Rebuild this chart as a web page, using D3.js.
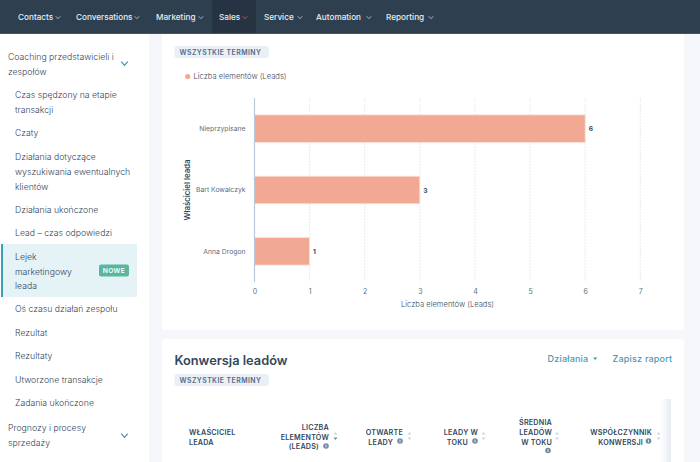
<!DOCTYPE html>
<html>
<head>
<meta charset="utf-8">
<script src="https://cdn.jsdelivr.net/npm/d3@7"></script>
<style>
html, body { margin: 0; padding: 0; background: #f5f8fa; overflow: hidden; }
svg { display: block; font-family: Inter, sans-serif; }
</style>
</head>
<body>
<div id="chart"></div>
<script>
// data
var owners = ["Nieprzypisane", "Bart Kowalczyk", "Anna Drogon"];
var leadCounts = [6, 3, 1];
var xTicks = [0, 1, 2, 3, 4, 5, 6, 7];

var seriesName = "Liczba elementów (Leads)";
var yAxisTitle = "Właściciel leada";
var dateTag = "WSZYSTKIE TERMINY";

var navLabels = ["Contacts", "Conversations", "Marketing", "Sales", "Service", "Automation", "Reporting"];
var navX = [18, 76, 156, 219, 264, 316, 386];
var navChevronX = [58, 137, 201, 245, 300, 369, 431];

var sideLines = [
    [8, 60, "Coaching przedstawicieli i"], [8, 75, "zespołów"],
    [15, 98, "Czas spędzony na etapie"], [15, 113, "transakcji"],
    [15, 136, "Czaty"],
    [15, 160, "Działania dotyczące"], [15, 175, "wyszukiwania ewentualnych"], [15, 190, "klientów"],
    [15, 213, "Działania ukończone"],
    [15, 236, "Lead – czas odpowiedzi"],
    [15, 260, "Lejek"], [15, 275, "marketingowy"], [15, 289, "leada"],
    [15, 312, "Oś czasu działań zespołu"],
    [15, 336, "Rezultat"],
    [15, 359, "Rezultaty"],
    [15, 383, "Utworzone transakcje"],
    [15, 406, "Zadania ukończone"],
    [8, 431, "Prognozy i procesy"], [8, 446, "sprzedaży"]
];

// table header lines: right edge x, baseline y, text
var headerLines = [
    [329, 430, "LICZBA"], [329, 439.5, "ELEMENTÓW"], [319, 449, "(LEADS)"],
    [403, 435, "OTWARTE"], [393, 444.5, "LEADY"],
    [478, 435, "LEADY W"], [468, 444.5, "TOKU"],
    [552, 425, "ŚREDNIA"], [552, 435, "LEADÓW"], [552, 444.5, "W TOKU"],
    [652, 435, "WSPÓŁCZYNNIK"], [643, 444.5, "KONWERSJI"]
];
var infoIcons = [[326, 446], [400, 441], [475, 441], [548, 450.5], [648.5, 441]];
var sortIcons = [[335.5, 436], [409.5, 436], [483.5, 436], [557, 436], [658.5, 436]];

var width = 700, height = 462;
var svg = d3.select("#chart").append("svg")
    .attr("width", width)
    .attr("height", height);

var defs = svg.append("defs");
var fade = defs.append("linearGradient").attr("id", "fade");
fade.append("stop").attr("offset", 0).attr("stop-color", "#e6ebf3").attr("stop-opacity", 0);
fade.append("stop").attr("offset", 1).attr("stop-color", "#e6ebf3");

/* Page panels. */
svg.append("rect").attr("width", width).attr("height", height).attr("fill", "#f5f7fb");
svg.append("rect").attr("width", 149).attr("height", height).attr("fill", "#ffffff");
svg.append("rect").attr("x", 162).attr("y", 30).attr("width", 522).attr("height", 300).attr("fill", "#ffffff");
svg.append("rect").attr("x", 162).attr("y", 339).attr("width", 522).attr("height", 130).attr("rx", 3).attr("fill", "#ffffff");

/* Top nav. */
svg.append("rect").attr("width", width).attr("height", 33).attr("fill", "#2e3f50");
svg.append("rect").attr("y", 33).attr("width", width).attr("height", 1).attr("fill", "#45525f");
svg.append("rect").attr("x", 212).attr("width", 44).attr("height", 33).attr("fill", "#253342");

function chevron(sel, cx, cy, r, color, sw) {
    sel.append("path")
        .attr("d", d3.line()([[cx - r, cy - r * 0.55], [cx, cy + r * 0.55], [cx + r, cy - r * 0.55]]))
        .attr("fill", "none")
        .attr("stroke", color)
        .attr("stroke-width", sw);
}

navLabels.forEach(function (label, i) {
    svg.append("text")
        .attr("x", navX[i])
        .attr("y", 20.3)
        .attr("font-size", 8.2)
        .attr("font-weight", 500)
        .attr("fill", "#e6edf3")
        .text(label);
    chevron(svg, navChevronX[i], 17.5, 2.3, label == "Sales" ? "#c9675f" : "#c3ced8", 0.8);
});

/* Sidebar. */
svg.append("rect").attr("x", 1).attr("y", 244).attr("width", 136).attr("height", 53).attr("fill", "#e5f2f6");
svg.append("rect").attr("x", 1).attr("y", 244).attr("width", 2).attr("height", 53).attr("fill", "#3f9fb8");

svg.selectAll(".side")
    .data(sideLines)
    .enter().append("text")
    .attr("class", "side")
    .attr("x", function (d) { return d[0]; })
    .attr("y", function (d) { return d[1]; })
    .attr("font-size", 8.7)
    .attr("font-weight", 300)
    .attr("fill", "#33475b")
    .text(function (d) { return d[2]; });

chevron(svg, 124.5, 63.5, 3.3, "#3d94b0", 1.2);
chevron(svg, 124.5, 435.5, 3.3, "#3d94b0", 1.2);

svg.append("rect").attr("x", 99).attr("y", 264.5).attr("width", 30).attr("height", 12).attr("rx", 2).attr("fill", "#58b79f");
svg.append("text")
    .attr("x", 114).attr("y", 273)
    .attr("text-anchor", "middle")
    .attr("font-size", 6.6)
    .attr("font-weight", 600)
    .attr("letter-spacing", 0.4)
    .attr("fill", "#ffffff")
    .text("NOWE");

/* Date tags. */
function dateTagAt(y) {
    svg.append("rect").attr("x", 174.5).attr("y", y).attr("width", 94.5).attr("height", 12).attr("rx", 2).attr("fill", "#eaf0f6");
    svg.append("text")
        .attr("x", 179.5).attr("y", y + 9)
        .attr("font-size", 6.9)
        .attr("font-weight", 600)
        .attr("letter-spacing", 0.45)
        .attr("fill", "#4f6a8c")
        .text(dateTag);
}
dateTagAt(46);
dateTagAt(374);

/* Legend. */
var barColor = "#f2a994";
svg.append("circle").attr("cx", 187.7).attr("cy", 76.5).attr("r", 2.6).attr("fill", barColor);
svg.append("text")
    .attr("x", 193.5).attr("y", 79)
    .attr("font-size", 7.6)
    .attr("font-weight", 300)
    .attr("fill", "#33475b")
    .text(seriesName);

/* Bar chart. */
var x = d3.scaleLinear().domain([0, 7]).range([254.5, 640.3]);
var y = d3.scaleBand().domain(owners).range([98, 282]).paddingInner(0.55).paddingOuter(0.275);

svg.selectAll(".grid")
    .data(xTicks.slice(1))
    .enter().append("line")
    .attr("class", "grid")
    .attr("x1", function (d) { return x(d); })
    .attr("x2", function (d) { return x(d); })
    .attr("y1", 98)
    .attr("y2", 282)
    .attr("stroke", "#e8ebef")
    .attr("stroke-dasharray", "2,1");

svg.selectAll(".bar")
    .data(owners)
    .enter().append("rect")
    .attr("class", "bar")
    .attr("x", x(0))
    .attr("y", function (d) { return y(d); })
    .attr("width", function (d, i) { return x(leadCounts[i]) - x(0); })
    .attr("height", y.bandwidth())
    .attr("fill", barColor)
    .attr("stroke", "#fbe3dc")
    .attr("stroke-width", 0.8);

svg.append("line")
    .attr("x1", x(0)).attr("x2", x(0)).attr("y1", 98).attr("y2", 282)
    .attr("stroke", "#b9c9dc")
    .attr("stroke-width", 1.2);

svg.selectAll(".val")
    .data(owners)
    .enter().append("text")
    .attr("class", "val")
    .attr("x", function (d, i) { return x(leadCounts[i]) + 3.5; })
    .attr("y", function (d) { return y(d) + y.bandwidth() / 2 + 2.6; })
    .attr("font-size", 6.6)
    .attr("font-weight", 700)
    .attr("fill", "#33475b")
    .text(function (d, i) { return leadCounts[i]; });

var xAxis = svg.append("g")
    .attr("transform", "translate(0,282)")
    .call(d3.axisBottom(x).tickValues(xTicks).tickFormat(d3.format("d")).tickSize(0).tickPadding(7));
xAxis.select(".domain").remove();
xAxis.selectAll("text").attr("font-family", "Inter, sans-serif").attr("font-size", 7).attr("fill", "#5c6f82");

var yAxis = svg.append("g")
    .attr("transform", "translate(245.5,0)")
    .call(d3.axisLeft(y).tickSize(0).tickPadding(0));
yAxis.select(".domain").remove();
yAxis.selectAll("text").attr("font-family", "Inter, sans-serif").attr("font-size", 6.8).attr("fill", "#5c6f82");

svg.append("text")
    .attr("x", 447.5).attr("y", 306.5)
    .attr("text-anchor", "middle")
    .attr("font-size", 7.6)
    .attr("font-weight", 300)
    .attr("fill", "#33475b")
    .text(seriesName);

svg.append("text")
    .attr("transform", "translate(190,190) rotate(-90)")
    .attr("text-anchor", "middle")
    .attr("font-size", 7.8)
    .attr("font-weight", 600)
    .attr("fill", "#33475b")
    .text(yAxisTitle);

/* Second card. */
svg.append("text")
    .attr("x", 174.5).attr("y", 364.5)
    .attr("font-size", 12.8)
    .attr("font-weight", 600)
    .attr("fill", "#33475b")
    .text("Konwersja leadów");

svg.append("text")
    .attr("x", 547.5).attr("y", 362)
    .attr("font-size", 9)
    .attr("font-weight", 500)
    .attr("letter-spacing", 0.2)
    .attr("fill", "#4a98b3")
    .text("Działania");
svg.append("path").attr("d", "M593,357.5h4.4l-2.2,2.4z").attr("fill", "#4a98b3");
svg.append("text")
    .attr("x", 612.5).attr("y", 362)
    .attr("font-size", 9)
    .attr("font-weight", 500)
    .attr("letter-spacing", 0.2)
    .attr("fill", "#4a98b3")
    .text("Zapisz raport");

svg.append("rect").attr("x", 660).attr("y", 399).attr("width", 11).attr("height", 63).attr("fill", "url(#fade)");

svg.selectAll(".owner-head")
    .data(["WŁAŚCICIEL", "LEADA"])
    .enter().append("text")
    .attr("x", 189)
    .attr("y", function (d, i) { return 435 + i * 9.5; })
    .attr("font-size", 7.2)
    .attr("font-weight", 600)
    .attr("letter-spacing", 0.2)
    .attr("fill", "#33475b")
    .text(function (d) { return d; });

svg.selectAll(".head")
    .data(headerLines)
    .enter().append("text")
    .attr("class", "head")
    .attr("x", function (d) { return d[0]; })
    .attr("y", function (d) { return d[1]; })
    .attr("text-anchor", "end")
    .attr("font-size", 7.2)
    .attr("font-weight", 600)
    .attr("letter-spacing", 0.2)
    .attr("fill", "#33475b")
    .text(function (d) { return d[2]; });

infoIcons.forEach(function (p) {
    svg.append("circle").attr("cx", p[0]).attr("cy", p[1]).attr("r", 2.8).attr("fill", "#6f8aa5");
    svg.append("rect").attr("x", p[0] - 0.4).attr("y", p[1] - 1.4).attr("width", 0.8).attr("height", 2.8).attr("fill", "#ffffff");
});

sortIcons.forEach(function (p, i) {
    svg.append("path")
        .attr("d", "M" + (p[0] - 2) + "," + (p[1] - 1.5) + "h4l-2,-2.6z")
        .attr("fill", "#cbd6e2");
    svg.append("path")
        .attr("d", "M" + (p[0] - 2) + "," + (p[1] + 1.5) + "h4l-2,2.6z")
        .attr("fill", i == 0 ? "#4a98b3" : "#cbd6e2");
});
</script>
</body>
</html>
